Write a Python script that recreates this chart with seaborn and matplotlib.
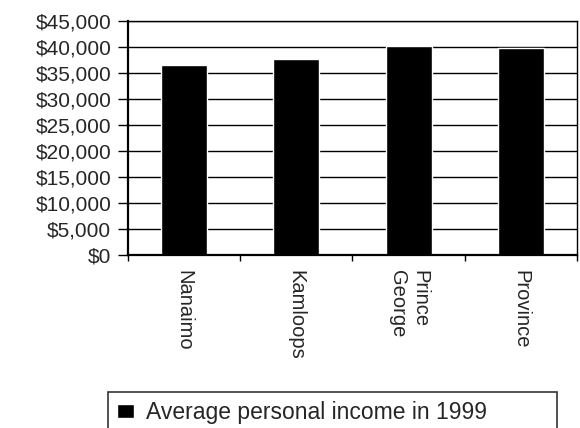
import matplotlib
matplotlib.use('Agg')
import matplotlib.pyplot as plt
import matplotlib.ticker as mticker
import seaborn as sns
import pandas as pd

# Data
regions = ['Nanaimo', 'Kamloops', 'Prince\nGeorge', 'Province']
income_1999 = [36500, 37600, 40200, 39800]
series_name = 'Average personal income in 1999'
y_ticks = list(range(0, 45001, 5000))

df = pd.DataFrame({'Region': regions, 'Income': income_1999})

sns.set_style('white')
plt.rcParams['font.family'] = ['Liberation Sans', 'DejaVu Sans']

fig = plt.figure(figsize=(5.8, 4.28), dpi=100)
ax = fig.add_axes([0.2207, 0.4042, 0.7741, 0.5467])

sns.barplot(data=df, x='Region', y='Income', color='black', width=0.41,
            saturation=1, label=series_name, ax=ax)

ax.set_ylim(0, 45000)
ax.set_xlim(-0.5, len(regions) - 0.5)
ax.set_yticks(y_ticks)
ax.yaxis.set_major_formatter(mticker.StrMethodFormatter('${x:,.0f}'))
ax.set_axisbelow(True)
ax.grid(axis='y', color='black', linewidth=1)
ax.set_xlabel('')
ax.set_ylabel('')

for side in ['left', 'bottom', 'right', 'top']:
    ax.spines[side].set_visible(True)
    ax.spines[side].set_color('black')
ax.spines['left'].set_linewidth(1.6)
ax.spines['bottom'].set_linewidth(1.6)
ax.spines['right'].set_linewidth(1.0)
ax.spines['top'].set_linewidth(1.0)

ax.tick_params(axis='y', left=True, length=7, width=1, color='black',
               pad=5, labelsize=15)
# category labels without ticks, small ticks between categories
ax.tick_params(axis='x', which='major', bottom=True, length=0, pad=11, labelsize=14.5)
ax.set_xticks([i + 0.5 for i in range(-1, len(regions))], minor=True)
ax.tick_params(axis='x', which='minor', bottom=True, length=4, width=1, color='black')
for lbl in ax.get_xticklabels():
    lbl.set_rotation(270)
    lbl.set_va('top')
    lbl.set_ha('center')
    lbl.set_multialignment('left')

handles, labels = ax.get_legend_handles_labels()
if ax.get_legend() is not None:
    ax.get_legend().remove()
leg = fig.legend(handles, labels, loc='upper left', mode='expand',
                 bbox_to_anchor=(0.1862, 0.0, 0.7741, 0.0841),
                 fontsize=16.5, frameon=True, fancybox=False, edgecolor='black',
                 handlelength=0.75, handleheight=0.6, handletextpad=0.5,
                 borderpad=0.4, borderaxespad=0)
leg.get_frame().set_linewidth(1.2)

fig.savefig('out.png', dpi=100)
